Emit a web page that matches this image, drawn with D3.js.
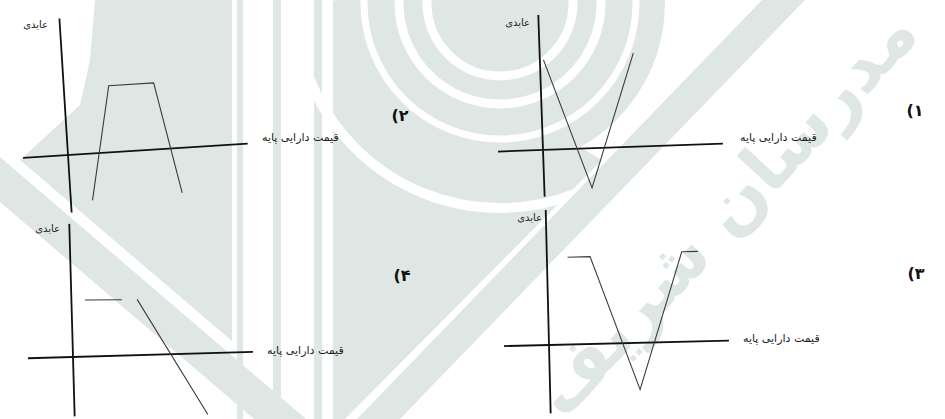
<!DOCTYPE html>
<html>
<head>
<meta charset="utf-8">
<script src="https://cdn.jsdelivr.net/npm/d3@7"></script>
<style>
html, body { margin: 0; padding: 0; background: #fff; }
svg { display: block; }
</style>
</head>
<body>
<svg id="chart" width="945" height="419"></svg>
<script>
// values: [underlying price, payoff]
const priceDomain = [-25, 100];
const payoff1 = [[2, 50], [26.5, -22], [52, 52]];
const payoff2 = [[12, -26], [25, 37], [50, 37], [62, -25]];
const payoff3 = [[11.5, 48.5], [24, 48.5], [50, -26], [75, 50], [84, 50]];
const payoff4 = [[7.5, 31.5], [28, 31], null, [36.5, 31], [74, -34]];

// how far each payoff axis runs (down, up)
const yExtent1 = [-26, 75];
const yExtent2 = [-32, 76];
const yExtent3 = [-38, 75];
const yExtent4 = [-33, 74];

const panelNumbers = ["(۱", "(۲", "(۳", "(۴"];
const yLabel = "عایدی";
const xLabel = "قیمت دارایی پایه";
const watermarkText = "مدرسان شریف";

// where each scanned panel sits on the page (and its slight tilt)
const layout = [
    { data: payoff1, yExt: yExtent1, origin: [543, 150], angle: -2.0, yLab: [530, 26], xLab: [740, 141], num: [915, 116] },
    { data: payoff2, yExt: yExtent2, origin: [68, 155], angle: -3.6, yLab: [48, 28], xLab: [262, 141], num: [400, 121] },
    { data: payoff3, yExt: yExtent3, origin: [549, 345], angle: -1.4, yLab: [542, 221], xLab: [743, 342], num: [916, 279] },
    { data: payoff4, yExt: yExtent4, origin: [73, 357], angle: -1.6, yLab: [60, 232], xLab: [267, 354], num: [402, 281] }
];

const svg = d3.select("#chart");
const font = "'DejaVu Sans', 'Noto Sans', sans-serif";

drawWatermark();

const x = d3.scaleLinear().domain(priceDomain).range([-45, 180]);
const y = d3.scaleLinear().domain([0, 75]).range([0, -135]);

const line = d3.line()
    .defined(d => d !== null)
    .x(d => x(d[0]))
    .y(d => y(d[1]));

layout.forEach((p, i) => {
    const g = svg.append("g")
        .attr("transform", `translate(${p.origin[0]},${p.origin[1]}) rotate(${p.angle})`);

    // price axis
    g.append("line")
        .attr("x1", x(priceDomain[0])).attr("x2", x(priceDomain[1]))
        .attr("y1", y(0)).attr("y2", y(0))
        .attr("stroke", "#111").attr("stroke-width", 1.8);

    // payoff axis
    g.append("line")
        .attr("x1", x(0)).attr("x2", x(0))
        .attr("y1", y(p.yExt[0])).attr("y2", y(p.yExt[1]))
        .attr("stroke", "#111").attr("stroke-width", 1.8);

    g.append("path")
        .datum(p.data)
        .attr("d", line)
        .attr("fill", "none")
        .attr("stroke", "#3a3a3a")
        .attr("stroke-width", 1.1);

    svg.append("text")
        .attr("x", p.yLab[0]).attr("y", p.yLab[1])
        .attr("text-anchor", "end")
        .attr("font-family", font).attr("font-size", 10)
        .attr("fill", "#222")
        .text(yLabel);

    svg.append("text")
        .attr("x", p.xLab[0]).attr("y", p.xLab[1])
        .attr("text-anchor", "start")
        .attr("font-family", font).attr("font-size", 11)
        .attr("fill", "#222")
        .text(xLabel);

    svg.append("text")
        .attr("x", p.num[0]).attr("y", p.num[1])
        .attr("text-anchor", "middle")
        .attr("font-family", font).attr("font-size", 16).attr("font-weight", "bold")
        .attr("fill", "#111")
        .text(panelNumbers[i]);
});

// faint logo behind the scan
function drawWatermark() {
    const wm = "#dfe7e4";
    const g = svg.append("g");

    g.append("path").attr("d", "M95,0 L232,0 L232,341 L20,160 L80,105 L90,60 Z").attr("fill", wm);
    g.append("path").attr("d", "M0,157 L306,419 L254,419 L0,202 Z").attr("fill", wm);

    [[237, 6], [273, 8], [314, 8]].forEach(s => {
        g.append("rect").attr("x", s[0]).attr("y", 0).attr("width", s[1]).attr("height", 419).attr("fill", wm);
    });

    g.append("circle").attr("cx", 500).attr("cy", 3).attr("r", 165).attr("fill", wm);
    g.append("path").attr("d", "M333,0 L333,419 L345,419 L602,160 L500,100 Z").attr("fill", wm);
    [[73, 9], [101, 9], [136, 7], [205, 10]].forEach(r => {
        g.append("circle").attr("cx", 500).attr("cy", 3).attr("r", r[0])
            .attr("fill", "none").attr("stroke", "#fff").attr("stroke-width", r[1]);
    });

    g.append("path").attr("d", "M762,0 L805,0 L400,419 L357,419 Z").attr("fill", wm);

    g.append("text")
        .attr("transform", "translate(742,228) rotate(-47)")
        .attr("text-anchor", "middle")
        .attr("font-family", font).attr("font-size", 70).attr("font-weight", "bold")
        .attr("fill", wm)
        .text(watermarkText);
}
</script>
</body>
</html>
